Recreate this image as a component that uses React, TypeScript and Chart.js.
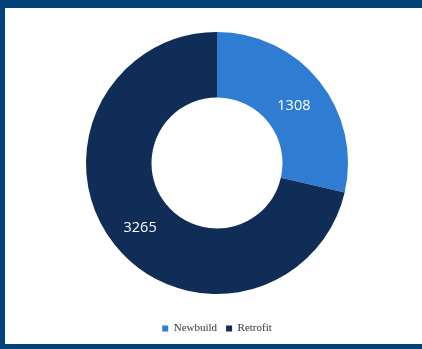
import React, { useEffect, useRef } from "react";
import { Chart, registerables } from "chart.js";

Chart.register(...registerables);

const categories = ["Newbuild", "Retrofit"];
const values = [1308, 3265];
const sliceColors = ["#2e7dd3", "#0f2d57"];

const valueLabels = {
  id: "valueLabels",
  afterDatasetsDraw(chart: any) {
    const ctx = chart.ctx;
    const meta = chart.getDatasetMeta(0);
    ctx.save();
    ctx.fillStyle = "#ffffff";
    ctx.font = "14.5px 'Open Sans', sans-serif";
    ctx.textAlign = "center";
    ctx.textBaseline = "middle";
    meta.data.forEach((arc: any, i: number) => {
      const p = arc.tooltipPosition();
      ctx.fillText(String(values[i]), p.x, p.y + 4);
    });
    ctx.restore();
  },
};

export default function App() {
  const ref = useRef<HTMLCanvasElement>(null);
  useEffect(() => {
    const chart = new Chart(ref.current!, {
      type: "doughnut",
      data: {
        labels: categories,
        datasets: [
          {
            data: values,
            backgroundColor: sliceColors,
            borderWidth: 0,
          },
        ],
      },
      options: {
        animation: false,
        responsive: false,
        cutout: "50%",
        layout: { padding: { top: 4, left: 81, right: 74, bottom: 0 } },
        plugins: {
          tooltip: { enabled: false },
          legend: {
            position: "bottom",
            labels: {
              boxWidth: 6,
              boxHeight: 6,
              padding: 9,
              color: "#333333",
              font: { family: "'Liberation Serif', serif", size: 11 },
            },
          },
        },
      },
      plugins: [valueLabels],
    });
    return () => chart.destroy();
  }, []);
  return (
    <div
      style={{
        position: "absolute",
        left: 0,
        top: 0,
        width: 417,
        height: 336,
        background: "#ffffff",
        borderTop: "8px solid #02437c",
        borderLeft: "5px solid #02437c",
        borderBottom: "5px solid #02437c",
      }}
    >
      <canvas ref={ref} width={417} height={336} style={{ display: "block" }} />
    </div>
  );
}
